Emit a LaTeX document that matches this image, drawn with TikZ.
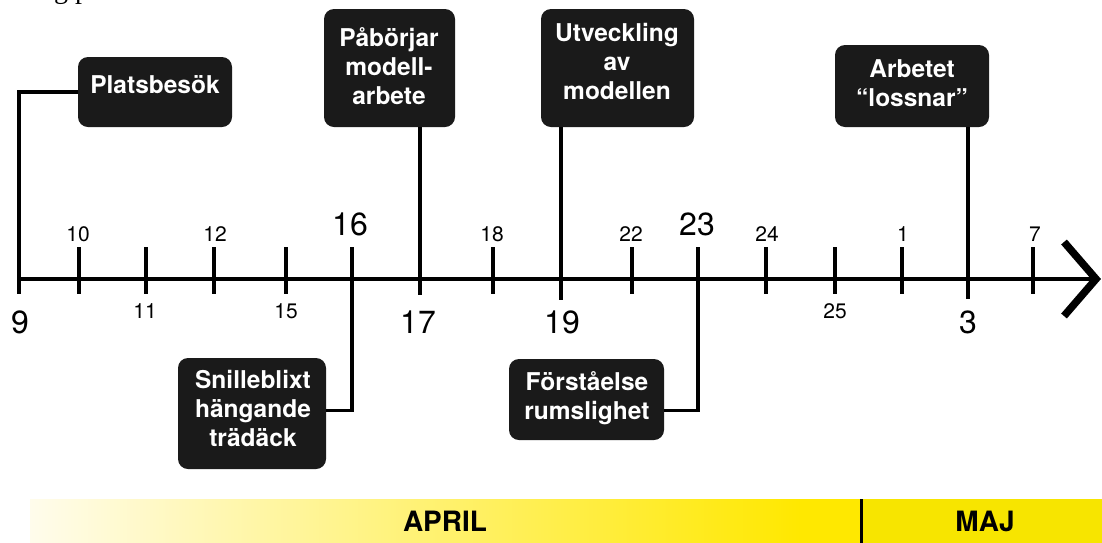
\documentclass[tikz,border=0pt]{standalone}
\usepackage{fontspec}
\setmainfont{TeX Gyre Heros}
\newfontfamily\fragfont{Liberation Serif}
\definecolor{boxblack}{HTML}{1A1A1A}
\definecolor{palecol}{HTML}{FFFCEC}
\definecolor{yellowcol}{HTML}{FFE800}
\definecolor{majcol}{HTML}{F7E500}
\tikzset{
  evbox/.style={fill=boxblack, rounded corners=10pt, inner sep=0pt, draw=none},
  evtext/.style={text=white, align=center, inner sep=0pt, font=\bfseries\fontsize{24.5}{29}\selectfont},
  axisline/.style={line width=3.2pt},
  tickline/.style={line width=3.2pt},
  connline/.style={line width=3.2pt, line join=miter},
  smalllab/.style={anchor=base, inner sep=0pt, font=\fontsize{21}{25}\selectfont},
  biglab/.style={anchor=base, inner sep=0pt, font=\fontsize{32}{36}\selectfont},
  monthlab/.style={anchor=base, inner sep=0pt, font=\bfseries\fontsize{28}{32}\selectfont},
}
\begin{document}
\begin{tikzpicture}[x=1pt,y=-1pt]
\clip (0,0) rectangle (1102,542);
\fill[white] (0,0) rectangle (1102,542);

% cut-off caption fragment
\node[anchor=base west, inner sep=0pt, font=\fragfont\fontsize{28}{30}\selectfont] (frag) at (40,-2) {ng p};

% month bar
\shade[left color=palecol, right color=yellowcol] (30,499) rectangle (800,546);
\fill[yellowcol] (799,499) rectangle (861,546);
\fill[majcol] (861,499) rectangle (1102,546);
\draw[line width=3pt] (861,499) -- (861,546);
\node[monthlab] (april) at (445,531) {APRIL};
\node[monthlab] (maj) at (985,531) {MAJ};

% axis
\coordinate (start) at (19,279);
\coordinate (tip) at (1096,279);
\draw[axisline] (start) -- (tip);
\draw[line width=7.5pt, line join=miter, miter limit=10] (1064,242) -- (tip) -- (1064,316);

% plain ticks
\foreach \xx in {79,146,214,286,493,632,766,835,902,1033}
  \draw[tickline] (\xx,247) -- (\xx,294);

% tick labels
\node[smalllab] (l10) at (78,241) {10};
\node[smalllab] (l12) at (215,241) {12};
\node[smalllab] (l18) at (492,241) {18};
\node[smalllab] (l22) at (631,241) {22};
\node[smalllab] (l24) at (767,241) {24};
\node[smalllab] (l1) at (903,241) {1};
\node[smalllab] (l7) at (1035,241) {7};
\node[biglab] (l16) at (350,235) {16};
\node[biglab] (l23) at (697,235) {23};
\node[smalllab] (l11) at (145,318) {11};
\node[smalllab] (l15) at (286,318) {15};
\node[smalllab] (l25) at (835,318) {25};
\node[biglab] (l9) at (20,333) {9};
\node[biglab] (l17) at (418,333) {17};
\node[biglab] (l19) at (562,333) {19};
\node[biglab] (l3) at (968,333) {3};

% event boxes
\node[evbox, minimum width=154pt, minimum height=70pt] (b1) at (155,92) {};
\node[evbox, minimum width=131pt, minimum height=118pt] (b2) at (389.5,68) {};
\node[evbox, minimum width=153pt, minimum height=118pt] (b3) at (617.5,68) {};
\node[evbox, minimum width=154pt, minimum height=82pt] (b4) at (912,86) {};
\node[evbox, minimum width=148pt, minimum height=111pt] (b5) at (252,413.5) {};
\node[evbox, minimum width=155pt, minimum height=81pt] (b6) at (586.5,399.5) {};

% connector end points on the axis
\coordinate (c9) at (19,294);
\coordinate (c16) at (352,247);
\coordinate (c17) at (420,295);
\coordinate (c19) at (561,300);
\coordinate (c23) at (698,247);
\coordinate (c3) at (968,299);

% connectors
\draw[connline] (b1.west) -| (c9);
\draw[connline] (b2.south -| c17) -- (c17);
\draw[connline] (b3.south -| c19) -- (c19);
\draw[connline] (b4.south -| c3) -- (c3);
\draw[connline] ([yshift=3pt]b5.east) -| (c16);
\draw[connline] ([yshift=-11pt]b6.east) -| (c23);

% event texts
\node[evtext] (t1) at (155,85) {Platsbesök};
\node[evtext] (t2) at (389,66) {Påbörjar\\modell-\\arbete};
\node[evtext] (t3) at (617,61) {Utveckling\\av\\modellen};
\node[evtext] (t4) at (912,83) {Arbetet\\“lossnar”};
\node[evtext] (t5) at (253,408) {Snilleblixt\\hängande\\trädäck};
\node[evtext] (t6) at (587,398.5) {Förståelse\\rumslighet};
\end{tikzpicture}
\end{document}
